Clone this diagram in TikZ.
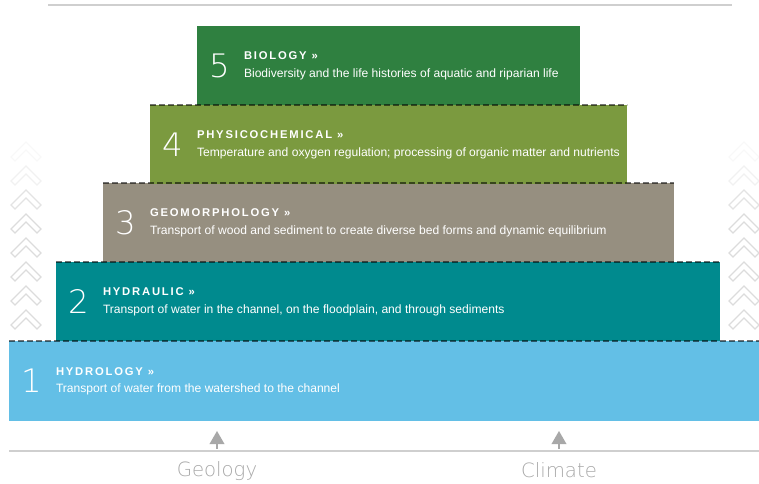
\documentclass[tikz,border=0pt]{standalone}
\usepackage{fontspec}
\setmainfont{Liberation Sans}
\newfontfamily\capsfont{Liberation Sans}[LetterSpace=16]
\newfontfamily\thinfont{DejaVu Sans ExtraLight}
\usetikzlibrary{arrows,positioning}

\definecolor{biology}{HTML}{2F8040}
\definecolor{physchem}{HTML}{7B9A3F}
\definecolor{geomorph}{HTML}{968F80}
\definecolor{hydraulic}{HTML}{008A8E}
\definecolor{hydrology}{HTML}{63BFE6}
\definecolor{rulegray}{HTML}{CFCFCF}
\definecolor{labelgray}{HTML}{A8A8A8}
\definecolor{chevgray}{HTML}{DCDCDC}

\begin{document}
\begin{tikzpicture}[x=0.025cm,y=-0.025cm,
                    every node/.style={inner sep=0pt,outer sep=0pt},
                    layer/.style={anchor=north west,minimum height=79*0.025cm},
                    num/.style={text=white,font=\thinfont\fontsize{23}{23}\selectfont},
                    head/.style={text=white,anchor=south west,font=\capsfont\bfseries\fontsize{8}{8}\selectfont},
                    sub/.style={text=white,font=\fontsize{8.6}{8.6}\selectfont},
                    seam/.style={draw=black,draw opacity=0.55,line width=1.5pt,dash pattern=on 4.3pt off 2.1pt},
                    chevron/.style={draw=chevgray,line width=0.9pt,line join=miter},
                    driver/.style={draw=labelgray,line width=1.6pt,-triangle 60},
                    base/.style={text=labelgray,font=\thinfont\fontsize{14}{14}\selectfont}]

\useasboundingbox (0,0) rectangle (759,484);

% the five layers, bottom to top
\node[layer,fill=hydrology,minimum width=750*0.025cm,minimum height=80*0.025cm] (L1) at (9,341) {};
\node[layer,fill=hydraulic,minimum width=664*0.025cm] (L2) at (56,262) {};
\node[layer,fill=geomorph,minimum width=571*0.025cm] (L3) at (103,183) {};
\node[layer,fill=physchem,minimum width=477*0.025cm] (L4) at (150,105) {};
\node[layer,fill=biology,minimum width=383*0.025cm] (L5) at (197,26) {};

\draw[seam] (L1.north west) -- (L1.north east);
\draw[seam] (L2.north west) -- (L2.north east);
\draw[seam] (L3.north west) -- (L3.north east);
\draw[seam] (L4.north west) -- (L4.north east);

% numbers, headings and lines of text
\node[num,right=0.3cm of L1.west] (n1) {1};
\node[head] (h1) at ([xshift=1.175cm,yshift=0.14cm]L1.west) {HYDROLOGY »};
\node[sub,below=0.22cm of h1.south west,anchor=north west] (s1) {Transport of water from the watershed to the channel};

\node[num,right=0.3cm of L2.west] (n2) {2};
\node[head] (h2) at ([xshift=1.175cm,yshift=0.14cm]L2.west) {HYDRAULIC »};
\node[sub,below=0.22cm of h2.south west,anchor=north west] (s2) {Transport of water in the channel, on the floodplain, and through sediments};

\node[num,right=0.3cm of L3.west] (n3) {3};
\node[head] (h3) at ([xshift=1.175cm,yshift=0.14cm]L3.west) {GEOMORPHOLOGY »};
\node[sub,below=0.22cm of h3.south west,anchor=north west] (s3) {Transport of wood and sediment to create diverse bed forms and dynamic equilibrium};

\node[num,right=0.3cm of L4.west] (n4) {4};
\node[head] (h4) at ([xshift=1.175cm,yshift=0.14cm]L4.west) {PHYSICOCHEMICAL »};
\node[sub,below=0.22cm of h4.south west,anchor=north west] (s4) {Temperature and oxygen regulation; processing of organic matter and nutrients};

\node[num,right=0.3cm of L5.west] (n5) {5};
\node[head] (h5) at ([xshift=1.175cm,yshift=0.14cm]L5.west) {BIOLOGY »};
\node[sub,below=0.22cm of h5.south west,anchor=north west] (s5) {Biodiversity and the life histories of aquatic and riparian life};

% side chevrons
\foreach \y/\o in {142/0.2,166/0.4,190/0.8,214/1,238/1,262/1,286/1,310/1}{
  \draw[chevron,draw opacity=\o] (26,\y) ++(-15,15) -- ++(15,-15) -- ++(15,15) -- ++(-4,4) -- ++(-11,-11) -- ++(-11,11) -- cycle;
  \draw[chevron,draw opacity=\o] (744,\y) ++(-15,15) -- ++(15,-15) -- ++(15,15) -- ++(-4,4) -- ++(-11,-11) -- ++(-11,11) -- cycle;
}

% rules, drivers
\coordinate (top west) at (48,5);
\coordinate (top east) at (732,5);
\draw[rulegray,line width=1.1pt] (top west) -- (top east);

\coordinate (base west) at (9,451);
\coordinate (base east) at (759,451);
\draw[rulegray,line width=1.1pt] (base west) -- (base east);

\coordinate (geo foot) at (217,449);
\coordinate (geo tip) at (217,431);
\coordinate (clim foot) at (559,449);
\coordinate (clim tip) at (559,431);
\draw[driver] (geo foot) -- (geo tip);
\draw[driver] (clim foot) -- (clim tip);

\node[base] (geology) at (217,471) {Geology};
\node[base] (climate) at (559,470) {Climate};

\end{tikzpicture}
\end{document}
